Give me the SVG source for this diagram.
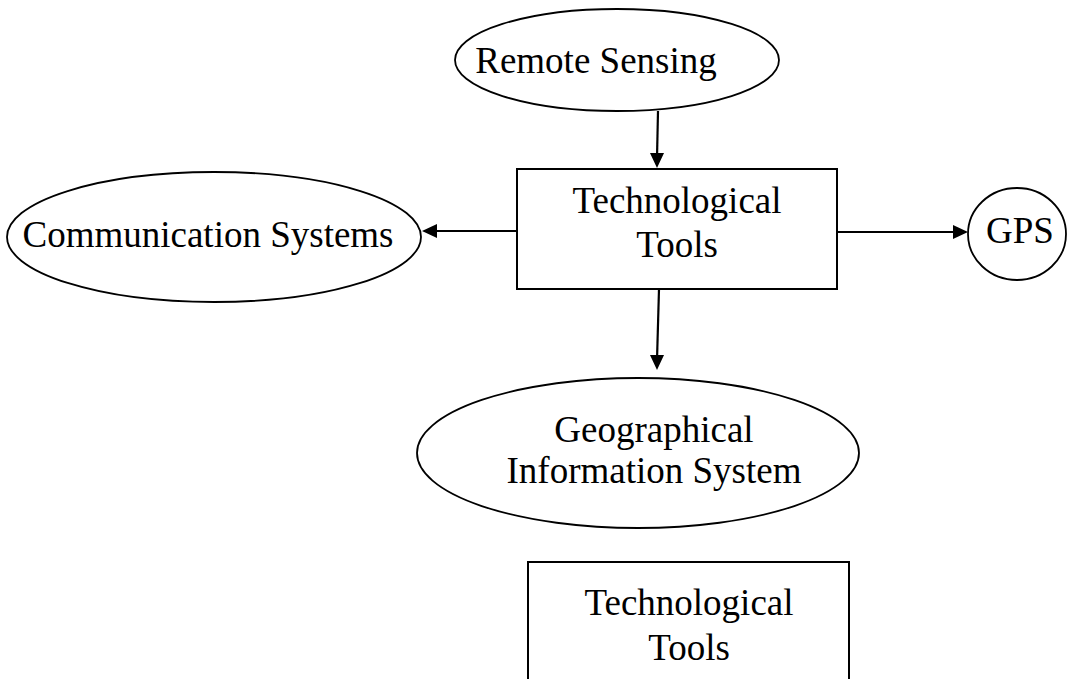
<svg xmlns="http://www.w3.org/2000/svg" xmlns:xlink="http://www.w3.org/1999/xlink" width="1068" height="679" viewBox="0 0 1068 679">
  <style>
    .shape { fill: #ffffff; stroke: #000000; stroke-width: 2; }
    .oval { fill: #ffffff; stroke: #000000; stroke-width: 1.8; }
    .label { font-family: "Liberation Serif", "Times New Roman", serif; font-size: 37px; fill: #000000; text-anchor: middle; }
    .link { fill: none; stroke: #000000; stroke-width: 2.2; }
    .head { fill: #000000; stroke: none; }
  </style>
  <defs>
    <!-- arrowhead pointing along +x with its tip at the origin -->
    <path id="head" class="head" d="M0,0 L-15,-7 L-15,7 z"/>
  </defs>
  <rect x="0" y="0" width="1068" height="679" fill="#ffffff"/>

  <g id="remote-sensing">
    <ellipse class="oval" cx="617" cy="60" rx="162" ry="51"/>
    <text class="label" x="596" y="73">Remote Sensing</text>
  </g>

  <g id="technological-tools">
    <rect class="shape" x="517" y="169" width="320" height="120"/>
    <text class="label" x="677" y="213">Technological</text>
    <text class="label" x="677" y="257">Tools</text>
  </g>

  <g id="communication-systems">
    <ellipse class="oval" cx="214" cy="237" rx="207" ry="65"/>
    <text class="label" x="208" y="247">Communication Systems</text>
  </g>

  <g id="gps">
    <ellipse class="oval" cx="1017" cy="234" rx="49" ry="46"/>
    <text class="label" x="1020" y="243">GPS</text>
  </g>

  <g id="geographical-information-system">
    <ellipse class="oval" cx="638" cy="453" rx="221" ry="75"/>
    <text class="label" x="654" y="442">Geographical</text>
    <text class="label" x="654" y="483">Information System</text>
  </g>

  <g id="technological-tools-2">
    <rect class="shape" x="528" y="562" width="321" height="130"/>
    <text class="label" x="689" y="615">Technological</text>
    <text class="label" x="689" y="660">Tools</text>
  </g>

  <g id="connectors">
    <line class="link" x1="658" y1="111" x2="657" y2="158"/>
    <use href="#head" xlink:href="#head" transform="translate(657,168) rotate(90)"/>

    <line class="link" x1="517" y1="231" x2="432" y2="231"/>
    <use href="#head" xlink:href="#head" transform="translate(422,231) rotate(180)"/>

    <line class="link" x1="837" y1="232" x2="958" y2="232"/>
    <use href="#head" xlink:href="#head" transform="translate(968,232)"/>

    <line class="link" x1="659" y1="289" x2="657" y2="360"/>
    <use href="#head" xlink:href="#head" transform="translate(657,370) rotate(90)"/>
  </g>
</svg>
